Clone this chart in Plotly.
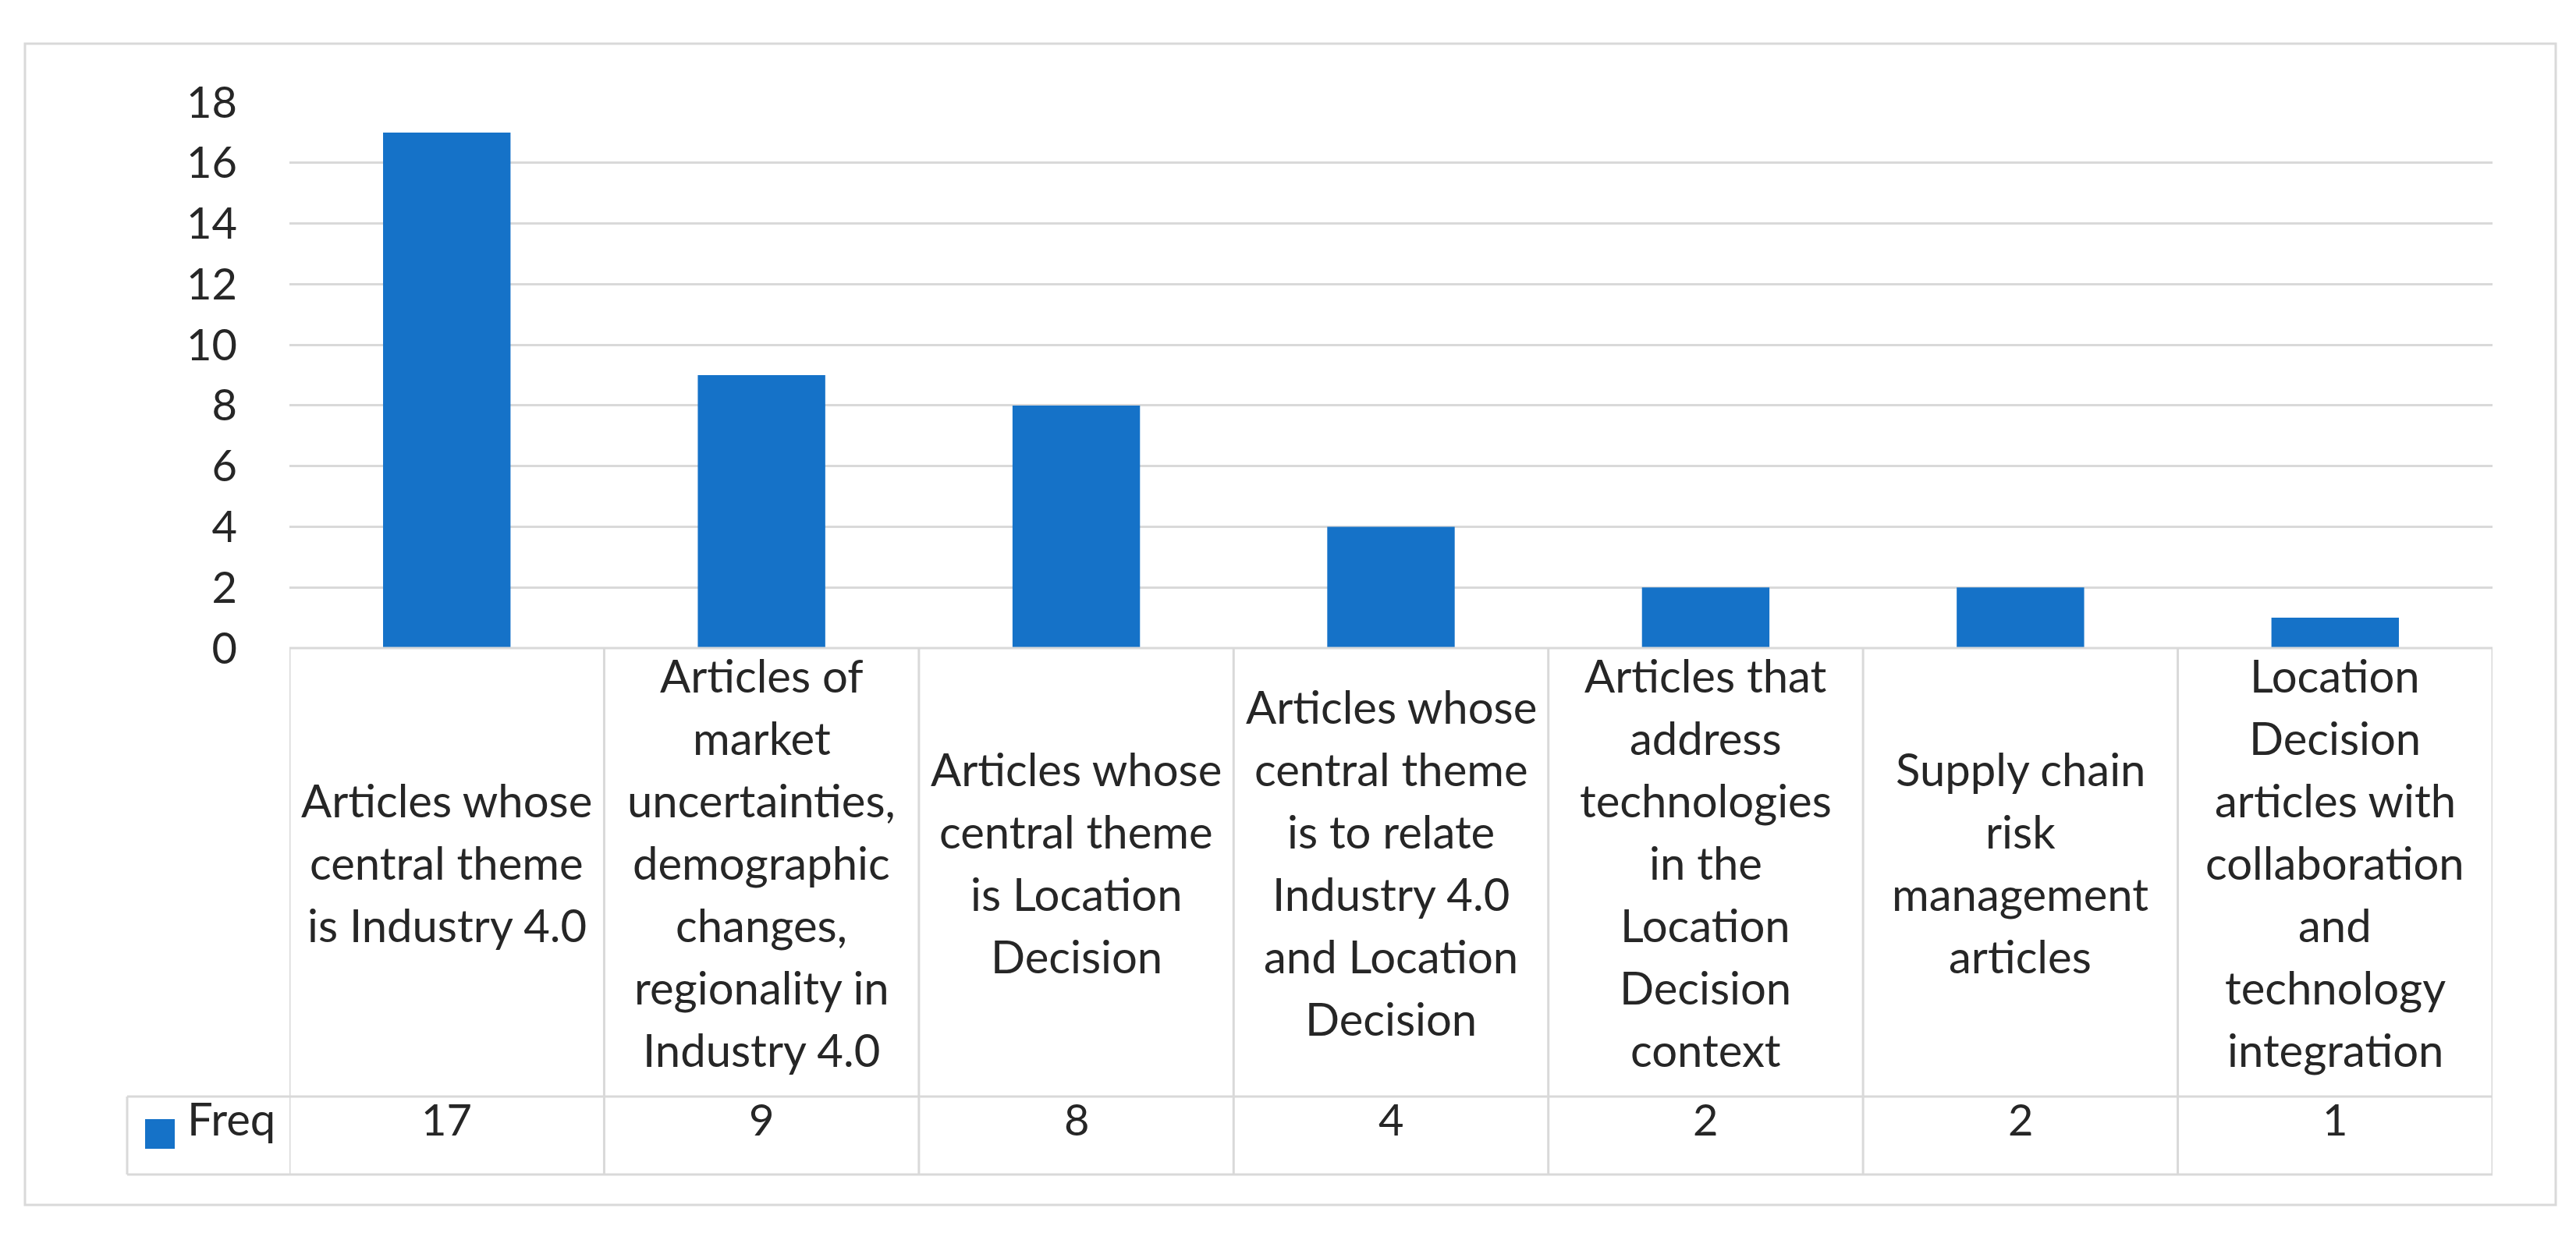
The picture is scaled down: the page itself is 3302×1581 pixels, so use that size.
import plotly.graph_objects as go

# data
categories = [
    "Articles whose<br>central theme<br>is Industry 4.0",
    "Articles of<br>market<br>uncertainties,<br>demographic<br>changes,<br>regionality in<br>Industry 4.0",
    "Articles whose<br>central theme<br>is Location<br>Decision",
    "Articles whose<br>central theme<br>is to relate<br>Industry 4.0<br>and Location<br>Decision",
    "Articles that<br>address<br>technologies<br>in the<br>Location<br>Decision<br>context",
    "Supply chain<br>risk<br>management<br>articles",
    "Location<br>Decision<br>articles with<br>collaboration<br>and<br>technology<br>integration",
]
freq = [17, 9, 8, 4, 2, 2, 1]
series_name = "Freq"
y_ticks = list(range(0, 19, 2))

BLUE = "#1572C8"
GRID = "#D9D9D9"
TEXT = "#262626"
FONT = "Lato"
LAB_SIZE = 58
NUM_SIZE = 56

W, H = 3302, 1581
L, R, T, B = 363, 115, 123, 758
plot_h = H - T - B
plot_w = W - L - R


def py(p):
    # pixel row -> paper y
    return (H - B - p) / plot_h


def px(p):
    # pixel column -> paper x
    return (p - L) / plot_w


x_idx = list(range(len(categories)))

fig = go.Figure()
fig.add_trace(go.Bar(x=x_idx, y=freq, marker_color=BLUE, marker_line_width=0,
                     name=series_name, showlegend=False))

row_split = 1398
table_bot = 1498
legend_left = 155
shapes = []
# outer chart border
shapes.append(dict(type="rect", xref="paper", yref="paper",
                   x0=px(24), x1=px(3268), y0=py(1537), y1=py(48),
                   line=dict(color=GRID, width=3)))
# table horizontal lines
shapes.append(dict(type="line", xref="x", yref="paper", x0=-0.5, x1=len(freq) - 0.5,
                   y0=0, y1=0, line=dict(color=GRID, width=3)))
for yy in (row_split, table_bot):
    shapes.append(dict(type="line", xref="paper", yref="paper", x0=px(legend_left), x1=1,
                       y0=py(yy), y1=py(yy), line=dict(color=GRID, width=3)))
shapes.append(dict(type="line", xref="paper", yref="paper", x0=px(legend_left),
                   x1=px(legend_left), y0=py(table_bot), y1=py(row_split),
                   line=dict(color=GRID, width=3)))
# vertical lines between categories
for i in range(len(freq) + 1):
    shapes.append(dict(type="line", xref="x", yref="paper", x0=i - 0.5, x1=i - 0.5,
                       y0=py(table_bot), y1=0, line=dict(color=GRID, width=3)))
# legend key
shapes.append(dict(type="rect", xref="paper", yref="paper",
                   x0=px(178), x1=px(216), y0=py(1465), y1=py(1427),
                   fillcolor=BLUE, line=dict(width=0)))

annotations = []
line_gap = 80
cell_mid = py((823 + row_split) / 2)
for i, lab in enumerate(categories):
    lines = lab.split("<br>")
    n = len(lines)
    for k, ln in enumerate(lines):
        annotations.append(dict(x=i, y=cell_mid, xref="x", yref="paper", text=ln,
                                showarrow=False,
                                yshift=((n - 1) / 2 - k) * line_gap - 0.3 * LAB_SIZE - 6,
                                font=dict(family=FONT, size=LAB_SIZE, color=TEXT)))
val_mid = py((row_split + table_bot) / 2)
for i, v in enumerate(freq):
    annotations.append(dict(x=i, y=val_mid, xref="x", yref="paper", text=str(v),
                            showarrow=False, yshift=-0.3 * NUM_SIZE + 3,
                            font=dict(family=FONT, size=NUM_SIZE, color=TEXT)))
annotations.append(dict(x=px(230), y=val_mid, xref="paper", yref="paper", text=series_name,
                        xanchor="left", showarrow=False, yshift=-0.3 * LAB_SIZE + 3,
                        font=dict(family=FONT, size=LAB_SIZE, color=TEXT)))

fig.update_layout(
    width=W, height=H,
    margin=dict(l=L, r=R, t=T, b=B, autoexpand=False),
    plot_bgcolor="white", paper_bgcolor="white",
    bargap=0.595,
    shapes=shapes, annotations=annotations,
    xaxis=dict(range=[-0.5, len(freq) - 0.5], showticklabels=False, showgrid=False,
               zeroline=False, showline=False, ticks=""),
    yaxis=dict(range=[0, 18], tickvals=y_ticks, showgrid=True, gridcolor=GRID,
               gridwidth=3, zeroline=False, showline=False, ticks="",
               ticklabelstandoff=66,
               tickfont=dict(family=FONT, size=NUM_SIZE, color=TEXT)),
)

fig.write_html("out.html")
